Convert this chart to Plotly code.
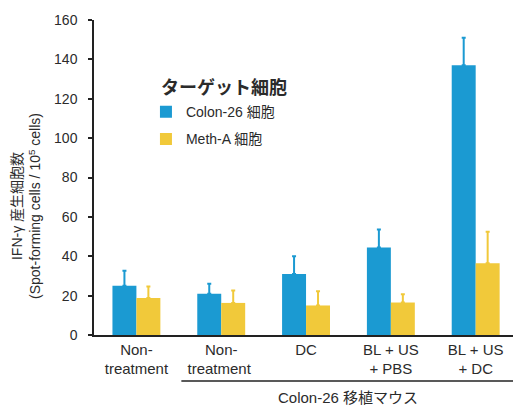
import plotly.graph_objects as go

categories = ["Non-<br>treatment", "Non-<br>treatment ", "DC", "BL + US<br>+ PBS", "BL + US<br>+ DC"]
colon26_values = [25, 21, 31, 44.5, 137]
colon26_errors = [7.6, 5, 9, 9.1, 14]
metha_values = [18.8, 16.3, 15, 16.5, 36.5]
metha_errors = [5.8, 6.3, 7.2, 4.2, 16]
y_ticks = [0, 20, 40, 60, 80, 100, 120, 140, 160]

BLUE = "#1b9ad2"
YELLOW = "#f1c93a"
FONT = "Arial, 'Liberation Sans', 'Noto Sans CJK JP', sans-serif"
TEXT = "#2b2b2b"

fig = go.Figure()
fig.add_trace(go.Bar(
    x=categories, y=colon26_values, name="Colon-26 細胞",
    marker=dict(color=BLUE, line=dict(width=0)),
    error_y=dict(type="data", array=colon26_errors, symmetric=False,
                 arrayminus=[0] * len(colon26_errors),
                 color=BLUE, thickness=2, width=2),
    legendgroup="a",
))
fig.add_trace(go.Bar(
    x=categories, y=metha_values, name="Meth-A 細胞",
    marker=dict(color=YELLOW, line=dict(width=0)),
    error_y=dict(type="data", array=metha_errors, symmetric=False,
                 arrayminus=[0] * len(metha_errors),
                 color=YELLOW, thickness=2, width=2),
    legendgroup="b",
))

fig.update_layout(
    width=513, height=406,
    margin=dict(l=94, r=0, t=20, b=71),
    paper_bgcolor="white", plot_bgcolor="white",
    barmode="group", bargap=0.435, bargroupgap=0,
    font=dict(family=FONT, size=13, color=TEXT),
    showlegend=True,
    legend=dict(
        x=0.124, y=0.758, xanchor="left", yanchor="top",
        bgcolor="rgba(0,0,0,0)",
        font=dict(size=14, color=TEXT),
        tracegroupgap=6,
        itemwidth=30,
    ),
    xaxis=dict(
        range=[-0.5, 4.44],
        showline=True, linecolor="#222", linewidth=1.5,
        ticks="", showgrid=False, zeroline=False,
        tickfont=dict(size=15, color=TEXT),
        fixedrange=True,
    ),
    yaxis=dict(
        range=[0, 160], tickvals=y_ticks,
        showline=True, linecolor="#222", linewidth=1.5,
        ticks="outside", ticklen=4, tickcolor="#222", tickwidth=1.5,
        showgrid=False, zeroline=False,
        tickfont=dict(size=14, color=TEXT),
        ticklabelstandoff=8,
        fixedrange=True,
    ),
)

# Legend heading
fig.add_annotation(
    xref="paper", yref="paper", x=0.155, y=0.785,
    text="<b>ターゲット細胞</b>", showarrow=False,
    xanchor="left", yanchor="middle",
    font=dict(size=18, color=TEXT),
)

# Y-axis title (two lines, rotated)
fig.add_annotation(
    xref="paper", yref="paper", x=-0.162, y=0.41,
    text="IFN-γ 産生細胞数<br>(Spot-forming cells / 10<sup>5</sup> cells)",
    textangle=-90, showarrow=False, xanchor="center", yanchor="middle",
    font=dict(size=14, color=TEXT),
)

# Bracket line under the Colon-26 transplanted groups
fig.add_shape(
    type="line", xref="x", yref="paper",
    x0=0.53, x1=4.44, y0=-0.146, y1=-0.146,
    line=dict(color="#222", width=1.5),
)
fig.add_annotation(
    xref="x", yref="paper", x=2.5, y=-0.197,
    text="Colon-26 移植マウス", showarrow=False,
    xanchor="center", yanchor="middle",
    font=dict(size=15, color=TEXT),
)

fig.write_html("out.html")
